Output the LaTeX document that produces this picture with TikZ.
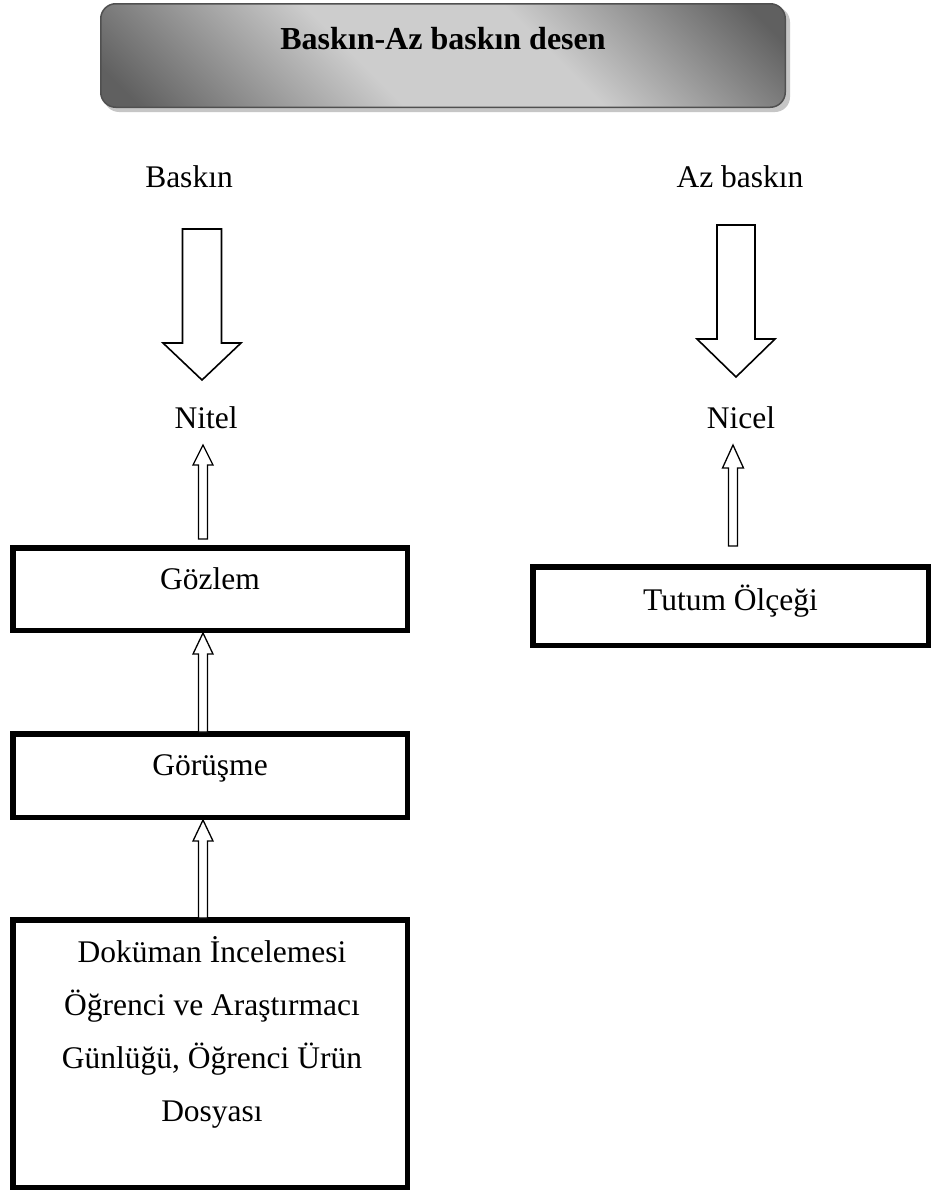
\documentclass[tikz,border=0pt]{standalone}
\usepackage{fontspec}
\setmainfont{Liberation Serif}
\usetikzlibrary{calc}
\definecolor{tdark}{HTML}{606060}
\definecolor{tlight}{HTML}{CDCDCD}
\definecolor{tborder}{HTML}{505050}
\pgfdeclareverticalshading{titleshade}{100bp}{color(0bp)=(tdark); color(18bp)=(tdark); color(42bp)=(tlight); color(60bp)=(tlight); color(82bp)=(tdark); color(100bp)=(tdark)}
% block arrow pointing up: #1 style, #2 base point, #3 tip point, #4 shaft half width, #5 head half width, #6 head length
\newcommand{\blkup}[6]{%
  \draw[#1] let \p1=#2, \p2=#3 in (\x2-#4,\y1) -- (\x2-#4,\y2-#6) -- (\x2-#5,\y2-#6) -- (\x2,\y2) -- (\x2+#5,\y2-#6) -- (\x2+#4,\y2-#6) -- (\x2+#4,\y1) -- cycle;}
\newcommand{\blkdown}[6]{%
  \draw[#1] let \p1=#2, \p2=#3 in (\x2-#4,\y1) -- (\x2-#4,\y2+#6) -- (\x2-#5,\y2+#6) -- (\x2,\y2) -- (\x2+#5,\y2+#6) -- (\x2+#4,\y2+#6) -- (\x2+#4,\y1) -- cycle;}
\begin{document}
\begin{tikzpicture}[x=1pt,y=-1pt, font=\fontsize{31.5}{38}\selectfont,
  box/.style={draw, line width=5.5pt, minimum width=394.5pt, inner sep=0pt},
  lbl/.style={anchor=base, inner sep=0pt},
  bigarr/.style={draw, line width=1.6pt, fill=white, line join=miter},
  smallarr/.style={draw, line width=1.3pt, fill=white, line join=miter}]
\useasboundingbox (0,0) rectangle (932,1191);
\fill[white] (0,0) rectangle (932,1191);

% title
\fill[gray!45, rounded corners=15pt] (104,7) rectangle (790,112);
\node[draw=tborder, line width=1.5pt, rounded corners=15pt, shade, shading=titleshade, shading angle=-45,
  minimum width=684.5pt, minimum height=103.5pt, inner sep=0pt, text height=22pt, text depth=35pt,
  font=\fontsize{32}{38}\selectfont\bfseries] (title) at (443,55.5) {Baskın-Az baskın desen};

% labels
\node[lbl] (baskin) at (189,187) {Baskın};
\node[lbl] (azbaskin) at (740,187) {Az baskın};
\node[lbl] (nitel) at (206,428) {Nitel};
\node[lbl] (nicel) at (741,428) {Nicel};

% boxes
\node[box, minimum height=82.5pt, text height=10pt, text depth=10pt] (gozlem) at (210,589) {Gözlem};
\node[box, minimum height=83.5pt, text height=10pt, text depth=10pt] (gorusme) at (210,775.5) {Görüşme};
\node[box, minimum width=395.5pt, minimum height=78.5pt, text height=14pt, text depth=6pt] (tutum) at (730.5,606) {Tutum Ölçeği};
\node[box, minimum height=267.5pt] (dokuman) at (210,1053.5) {};
\node[align=center, font=\fontsize{31.5}{53}\selectfont, anchor=base, inner sep=0pt] (dokumantext) at (212,1121)
  {Doküman İncelemesi\\Öğrenci ve Araştırmacı\\Günlüğü, Öğrenci Ürün\\Dosyası};

% big arrows
\coordinate (b1top) at (202,229);
\coordinate (b1tip) at (202,380);
\coordinate (b2top) at (736,225);
\coordinate (b2tip) at (736,377);
\blkdown{bigarr}{(b1top)}{(b1tip)}{19.5pt}{39pt}{37pt}
\blkdown{bigarr}{(b2top)}{(b2tip)}{19pt}{39pt}{38pt}

% small arrows
\coordinate (ax) at (203,0);
\coordinate (s1base) at (203,539);
\coordinate (s1tip) at (203,445);
\coordinate (s4base) at (733,546);
\coordinate (s4tip) at (733,445);
\blkup{smallarr}{(s1base)}{(s1tip)}{4.5pt}{10pt}{20pt}
\blkup{smallarr}{($(gorusme.north -| ax)+(0,1)$)}{(gozlem.south -| ax)}{4.5pt}{10pt}{21pt}
\blkup{smallarr}{($(dokuman.north -| ax)+(0,1)$)}{(gorusme.south -| ax)}{4.5pt}{10pt}{21pt}
\blkup{smallarr}{(s4base)}{(s4tip)}{4.5pt}{10.5pt}{23pt}
\end{tikzpicture}
\end{document}
